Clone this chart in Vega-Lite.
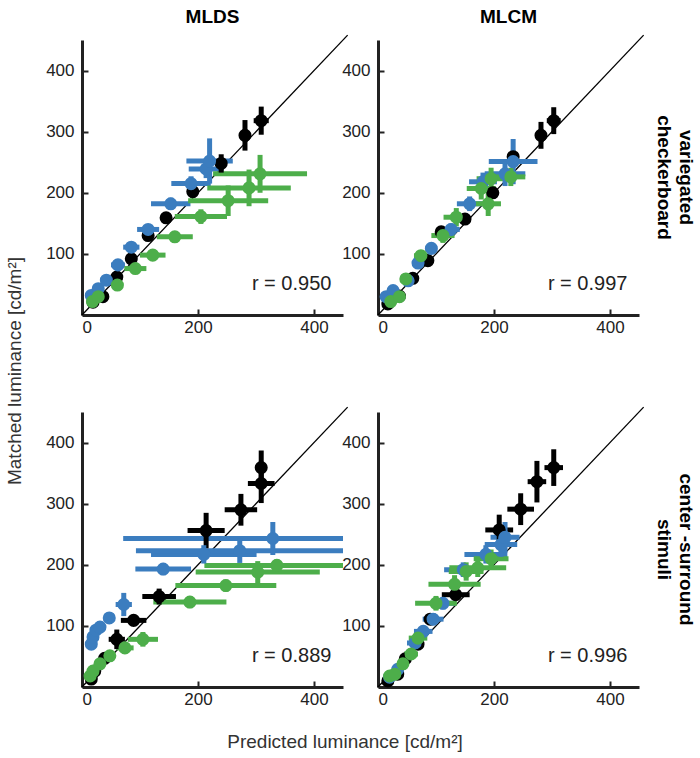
{
  "$schema": "https://vega.github.io/schema/vega-lite/v6.json",
  "padding": {"left": 5, "top": 8, "right": 2, "bottom": 5},
  "background": "white",
  "config": {
    "view": {"stroke": null},
    "font": "Liberation Sans",
    "axis": {"grid": false, "domainWidth": 3, "domainColor": "#222", "tickColor": "#222", "tickWidth": 2, "tickSize": -6, "labelFont": "Liberation Sans", "labelFontSize": 17, "labelColor": "#222", "title": null},
    "axisX": {"labelPadding": 10},
    "axisY": {"labelPadding": 14}
  },
  "data": {"values": [
    {"t":"r","m":"MLDS","s":"variegated|checkerboard","r":"r = 0.950"},
    {"t":"r","m":"MLCM","s":"variegated|checkerboard","r":"r = 0.997"},
    {"t":"r","m":"MLDS","s":"center -surround|stimuli","r":"r = 0.889"},
    {"t":"r","m":"MLCM","s":"center -surround|stimuli","r":"r = 0.996"},

    {"t":"p","m":"MLDS","s":"variegated|checkerboard","c":"k","x":19,"y":21,"xl":14,"xh":24,"yl":16,"yh":26},
    {"t":"p","m":"MLDS","s":"variegated|checkerboard","c":"k","x":36,"y":30,"xl":31,"xh":41,"yl":25,"yh":35},
    {"t":"p","m":"MLDS","s":"variegated|checkerboard","c":"k","x":60,"y":62,"xl":54,"xh":66,"yl":56,"yh":68},
    {"t":"p","m":"MLDS","s":"variegated|checkerboard","c":"k","x":85,"y":92,"xl":78,"xh":92,"yl":85,"yh":99},
    {"t":"p","m":"MLDS","s":"variegated|checkerboard","c":"k","x":114,"y":130,"xl":107,"xh":121,"yl":122,"yh":138},
    {"t":"p","m":"MLDS","s":"variegated|checkerboard","c":"k","x":145,"y":159,"xl":137,"xh":153,"yl":151,"yh":167},
    {"t":"p","m":"MLDS","s":"variegated|checkerboard","c":"k","x":191,"y":202,"xl":183,"xh":199,"yl":192,"yh":212},
    {"t":"p","m":"MLDS","s":"variegated|checkerboard","c":"k","x":240,"y":248,"xl":230,"xh":250,"yl":233,"yh":263},
    {"t":"p","m":"MLDS","s":"variegated|checkerboard","c":"k","x":281,"y":294,"xl":273,"xh":289,"yl":269,"yh":319},
    {"t":"p","m":"MLDS","s":"variegated|checkerboard","c":"k","x":309,"y":318,"xl":296,"xh":322,"yl":295,"yh":341},
    {"t":"p","m":"MLDS","s":"variegated|checkerboard","c":"b","x":16,"y":32,"xl":10,"xh":22,"yl":26,"yh":38},
    {"t":"p","m":"MLDS","s":"variegated|checkerboard","c":"b","x":28,"y":43,"xl":20,"xh":36,"yl":37,"yh":49},
    {"t":"p","m":"MLDS","s":"variegated|checkerboard","c":"b","x":42,"y":57,"xl":32,"xh":52,"yl":50,"yh":64},
    {"t":"p","m":"MLDS","s":"variegated|checkerboard","c":"b","x":62,"y":82,"xl":50,"xh":74,"yl":74,"yh":90},
    {"t":"p","m":"MLDS","s":"variegated|checkerboard","c":"b","x":85,"y":111,"xl":71,"xh":99,"yl":103,"yh":119},
    {"t":"p","m":"MLDS","s":"variegated|checkerboard","c":"b","x":114,"y":140,"xl":95,"xh":133,"yl":131,"yh":149},
    {"t":"p","m":"MLDS","s":"variegated|checkerboard","c":"b","x":153,"y":182,"xl":119,"xh":187,"yl":172,"yh":192},
    {"t":"p","m":"MLDS","s":"variegated|checkerboard","c":"b","x":188,"y":215,"xl":154,"xh":222,"yl":203,"yh":227},
    {"t":"p","m":"MLDS","s":"variegated|checkerboard","c":"b","x":214,"y":239,"xl":184,"xh":244,"yl":224,"yh":254},
    {"t":"p","m":"MLDS","s":"variegated|checkerboard","c":"b","x":220,"y":252,"xl":180,"xh":260,"yl":215,"yh":289},
    {"t":"p","m":"MLDS","s":"variegated|checkerboard","c":"g","x":18,"y":22,"xl":13,"xh":23,"yl":17,"yh":27},
    {"t":"p","m":"MLDS","s":"variegated|checkerboard","c":"g","x":28,"y":30,"xl":22,"xh":34,"yl":25,"yh":35},
    {"t":"p","m":"MLDS","s":"variegated|checkerboard","c":"g","x":61,"y":49,"xl":51,"xh":71,"yl":43,"yh":55},
    {"t":"p","m":"MLDS","s":"variegated|checkerboard","c":"g","x":92,"y":76,"xl":73,"xh":111,"yl":69,"yh":83},
    {"t":"p","m":"MLDS","s":"variegated|checkerboard","c":"g","x":122,"y":98,"xl":100,"xh":144,"yl":90,"yh":106},
    {"t":"p","m":"MLDS","s":"variegated|checkerboard","c":"g","x":160,"y":128,"xl":129,"xh":191,"yl":119,"yh":137},
    {"t":"p","m":"MLDS","s":"variegated|checkerboard","c":"g","x":205,"y":161,"xl":160,"xh":250,"yl":149,"yh":173},
    {"t":"p","m":"MLDS","s":"variegated|checkerboard","c":"g","x":252,"y":187,"xl":183,"xh":321,"yl":162,"yh":212},
    {"t":"p","m":"MLDS","s":"variegated|checkerboard","c":"g","x":288,"y":208,"xl":216,"xh":360,"yl":178,"yh":238},
    {"t":"p","m":"MLDS","s":"variegated|checkerboard","c":"g","x":307,"y":231,"xl":226,"xh":388,"yl":200,"yh":262},

    {"t":"p","m":"MLCM","s":"variegated|checkerboard","c":"k","x":17,"y":18,"xl":12,"xh":22,"yl":13,"yh":23},
    {"t":"p","m":"MLCM","s":"variegated|checkerboard","c":"k","x":37,"y":31,"xl":32,"xh":42,"yl":26,"yh":36},
    {"t":"p","m":"MLCM","s":"variegated|checkerboard","c":"k","x":60,"y":60,"xl":54,"xh":66,"yl":54,"yh":66},
    {"t":"p","m":"MLCM","s":"variegated|checkerboard","c":"k","x":86,"y":89,"xl":80,"xh":92,"yl":83,"yh":95},
    {"t":"p","m":"MLCM","s":"variegated|checkerboard","c":"k","x":109,"y":136,"xl":103,"xh":115,"yl":130,"yh":142},
    {"t":"p","m":"MLCM","s":"variegated|checkerboard","c":"k","x":150,"y":157,"xl":140,"xh":160,"yl":151,"yh":163},
    {"t":"p","m":"MLCM","s":"variegated|checkerboard","c":"k","x":198,"y":200,"xl":190,"xh":206,"yl":194,"yh":206},
    {"t":"p","m":"MLCM","s":"variegated|checkerboard","c":"k","x":233,"y":259,"xl":225,"xh":241,"yl":249,"yh":269},
    {"t":"p","m":"MLCM","s":"variegated|checkerboard","c":"k","x":281,"y":294,"xl":273,"xh":289,"yl":272,"yh":316},
    {"t":"p","m":"MLCM","s":"variegated|checkerboard","c":"k","x":303,"y":318,"xl":291,"xh":315,"yl":296,"yh":340},
    {"t":"p","m":"MLCM","s":"variegated|checkerboard","c":"b","x":14,"y":30,"xl":8,"xh":20,"yl":24,"yh":36},
    {"t":"p","m":"MLCM","s":"variegated|checkerboard","c":"b","x":26,"y":40,"xl":19,"xh":33,"yl":34,"yh":46},
    {"t":"p","m":"MLCM","s":"variegated|checkerboard","c":"b","x":52,"y":56,"xl":44,"xh":60,"yl":49,"yh":63},
    {"t":"p","m":"MLCM","s":"variegated|checkerboard","c":"b","x":69,"y":85,"xl":60,"xh":78,"yl":77,"yh":93},
    {"t":"p","m":"MLCM","s":"variegated|checkerboard","c":"b","x":92,"y":109,"xl":82,"xh":102,"yl":100,"yh":118},
    {"t":"p","m":"MLCM","s":"variegated|checkerboard","c":"b","x":126,"y":140,"xl":111,"xh":141,"yl":130,"yh":150},
    {"t":"p","m":"MLCM","s":"variegated|checkerboard","c":"b","x":158,"y":182,"xl":136,"xh":180,"yl":170,"yh":194},
    {"t":"p","m":"MLCM","s":"variegated|checkerboard","c":"b","x":181,"y":218,"xl":157,"xh":205,"yl":203,"yh":233},
    {"t":"p","m":"MLCM","s":"variegated|checkerboard","c":"b","x":219,"y":231,"xl":184,"xh":254,"yl":211,"yh":251},
    {"t":"p","m":"MLCM","s":"variegated|checkerboard","c":"b","x":233,"y":251,"xl":191,"xh":275,"yl":214,"yh":288},
    {"t":"p","m":"MLCM","s":"variegated|checkerboard","c":"g","x":22,"y":22,"xl":16,"xh":28,"yl":17,"yh":27},
    {"t":"p","m":"MLCM","s":"variegated|checkerboard","c":"g","x":37,"y":30,"xl":30,"xh":44,"yl":24,"yh":36},
    {"t":"p","m":"MLCM","s":"variegated|checkerboard","c":"g","x":48,"y":59,"xl":40,"xh":56,"yl":52,"yh":66},
    {"t":"p","m":"MLCM","s":"variegated|checkerboard","c":"g","x":74,"y":97,"xl":62,"xh":86,"yl":88,"yh":106},
    {"t":"p","m":"MLCM","s":"variegated|checkerboard","c":"g","x":112,"y":130,"xl":92,"xh":132,"yl":118,"yh":142},
    {"t":"p","m":"MLCM","s":"variegated|checkerboard","c":"g","x":135,"y":160,"xl":113,"xh":157,"yl":145,"yh":175},
    {"t":"p","m":"MLCM","s":"variegated|checkerboard","c":"g","x":178,"y":207,"xl":153,"xh":203,"yl":189,"yh":225},
    {"t":"p","m":"MLCM","s":"variegated|checkerboard","c":"g","x":190,"y":182,"xl":168,"xh":212,"yl":162,"yh":202},
    {"t":"p","m":"MLCM","s":"variegated|checkerboard","c":"g","x":195,"y":223,"xl":170,"xh":220,"yl":205,"yh":241},
    {"t":"p","m":"MLCM","s":"variegated|checkerboard","c":"g","x":229,"y":226,"xl":204,"xh":254,"yl":211,"yh":241},

    {"t":"p","m":"MLDS","s":"center -surround|stimuli","c":"k","x":16,"y":13,"xl":11,"xh":21,"yl":8,"yh":18},
    {"t":"p","m":"MLDS","s":"center -surround|stimuli","c":"k","x":22,"y":26,"xl":17,"xh":27,"yl":21,"yh":31},
    {"t":"p","m":"MLDS","s":"center -surround|stimuli","c":"k","x":39,"y":47,"xl":33,"xh":45,"yl":41,"yh":53},
    {"t":"p","m":"MLDS","s":"center -surround|stimuli","c":"k","x":60,"y":78,"xl":46,"xh":74,"yl":62,"yh":94},
    {"t":"p","m":"MLDS","s":"center -surround|stimuli","c":"k","x":89,"y":109,"xl":67,"xh":111,"yl":101,"yh":117},
    {"t":"p","m":"MLDS","s":"center -surround|stimuli","c":"k","x":133,"y":148,"xl":104,"xh":162,"yl":135,"yh":161},
    {"t":"p","m":"MLDS","s":"center -surround|stimuli","c":"k","x":214,"y":256,"xl":182,"xh":246,"yl":227,"yh":285},
    {"t":"p","m":"MLDS","s":"center -surround|stimuli","c":"k","x":274,"y":290,"xl":246,"xh":302,"yl":264,"yh":316},
    {"t":"p","m":"MLDS","s":"center -surround|stimuli","c":"k","x":309,"y":333,"xl":286,"xh":332,"yl":301,"yh":365},
    {"t":"p","m":"MLDS","s":"center -surround|stimuli","c":"k","x":309,"y":359,"xl":299,"xh":319,"yl":331,"yh":387},
    {"t":"p","m":"MLDS","s":"center -surround|stimuli","c":"b","x":16,"y":70,"xl":12,"xh":20,"yl":65,"yh":75},
    {"t":"p","m":"MLDS","s":"center -surround|stimuli","c":"b","x":19,"y":82,"xl":15,"xh":23,"yl":77,"yh":87},
    {"t":"p","m":"MLDS","s":"center -surround|stimuli","c":"b","x":24,"y":93,"xl":19,"xh":29,"yl":88,"yh":98},
    {"t":"p","m":"MLDS","s":"center -surround|stimuli","c":"b","x":31,"y":98,"xl":25,"xh":37,"yl":93,"yh":103},
    {"t":"p","m":"MLDS","s":"center -surround|stimuli","c":"b","x":47,"y":113,"xl":39,"xh":55,"yl":107,"yh":119},
    {"t":"p","m":"MLDS","s":"center -surround|stimuli","c":"b","x":72,"y":135,"xl":58,"xh":86,"yl":116,"yh":154},
    {"t":"p","m":"MLDS","s":"center -surround|stimuli","c":"b","x":140,"y":193,"xl":92,"xh":188,"yl":183,"yh":203},
    {"t":"p","m":"MLDS","s":"center -surround|stimuli","c":"b","x":210,"y":217,"xl":119,"xh":301,"yl":202,"yh":232},
    {"t":"p","m":"MLDS","s":"center -surround|stimuli","c":"b","x":272,"y":223,"xl":93,"xh":451,"yl":203,"yh":243},
    {"t":"p","m":"MLDS","s":"center -surround|stimuli","c":"b","x":329,"y":243,"xl":71,"xh":587,"yl":216,"yh":270},
    {"t":"p","m":"MLDS","s":"center -surround|stimuli","c":"g","x":14,"y":18,"xl":10,"xh":18,"yl":14,"yh":22},
    {"t":"p","m":"MLDS","s":"center -surround|stimuli","c":"g","x":19,"y":26,"xl":15,"xh":23,"yl":22,"yh":30},
    {"t":"p","m":"MLDS","s":"center -surround|stimuli","c":"g","x":31,"y":38,"xl":26,"xh":36,"yl":33,"yh":43},
    {"t":"p","m":"MLDS","s":"center -surround|stimuli","c":"g","x":48,"y":51,"xl":40,"xh":56,"yl":45,"yh":57},
    {"t":"p","m":"MLDS","s":"center -surround|stimuli","c":"g","x":74,"y":64,"xl":59,"xh":89,"yl":56,"yh":72},
    {"t":"p","m":"MLDS","s":"center -surround|stimuli","c":"g","x":105,"y":78,"xl":79,"xh":131,"yl":66,"yh":90},
    {"t":"p","m":"MLDS","s":"center -surround|stimuli","c":"g","x":186,"y":139,"xl":123,"xh":249,"yl":129,"yh":149},
    {"t":"p","m":"MLDS","s":"center -surround|stimuli","c":"g","x":248,"y":166,"xl":161,"xh":335,"yl":156,"yh":176},
    {"t":"p","m":"MLDS","s":"center -surround|stimuli","c":"g","x":303,"y":188,"xl":196,"xh":410,"yl":170,"yh":206},
    {"t":"p","m":"MLDS","s":"center -surround|stimuli","c":"g","x":336,"y":199,"xl":211,"xh":461,"yl":189,"yh":209},

    {"t":"p","m":"MLCM","s":"center -surround|stimuli","c":"k","x":17,"y":10,"xl":12,"xh":22,"yl":5,"yh":15},
    {"t":"p","m":"MLCM","s":"center -surround|stimuli","c":"k","x":34,"y":21,"xl":29,"xh":39,"yl":16,"yh":26},
    {"t":"p","m":"MLCM","s":"center -surround|stimuli","c":"k","x":47,"y":46,"xl":42,"xh":52,"yl":41,"yh":51},
    {"t":"p","m":"MLCM","s":"center -surround|stimuli","c":"k","x":69,"y":70,"xl":63,"xh":75,"yl":64,"yh":76},
    {"t":"p","m":"MLCM","s":"center -surround|stimuli","c":"k","x":90,"y":111,"xl":83,"xh":97,"yl":104,"yh":118},
    {"t":"p","m":"MLCM","s":"center -surround|stimuli","c":"k","x":134,"y":151,"xl":110,"xh":158,"yl":143,"yh":159},
    {"t":"p","m":"MLCM","s":"center -surround|stimuli","c":"k","x":209,"y":257,"xl":185,"xh":233,"yl":232,"yh":282},
    {"t":"p","m":"MLCM","s":"center -surround|stimuli","c":"k","x":246,"y":291,"xl":223,"xh":269,"yl":265,"yh":317},
    {"t":"p","m":"MLCM","s":"center -surround|stimuli","c":"k","x":274,"y":336,"xl":258,"xh":290,"yl":302,"yh":370},
    {"t":"p","m":"MLCM","s":"center -surround|stimuli","c":"k","x":303,"y":359,"xl":287,"xh":319,"yl":329,"yh":389},
    {"t":"p","m":"MLCM","s":"center -surround|stimuli","c":"b","x":20,"y":16,"xl":14,"xh":26,"yl":11,"yh":21},
    {"t":"p","m":"MLCM","s":"center -surround|stimuli","c":"b","x":34,"y":29,"xl":27,"xh":41,"yl":23,"yh":35},
    {"t":"p","m":"MLCM","s":"center -surround|stimuli","c":"b","x":64,"y":72,"xl":50,"xh":78,"yl":64,"yh":80},
    {"t":"p","m":"MLCM","s":"center -surround|stimuli","c":"b","x":78,"y":91,"xl":62,"xh":94,"yl":82,"yh":100},
    {"t":"p","m":"MLCM","s":"center -surround|stimuli","c":"b","x":95,"y":111,"xl":77,"xh":113,"yl":101,"yh":121},
    {"t":"p","m":"MLCM","s":"center -surround|stimuli","c":"b","x":112,"y":137,"xl":90,"xh":134,"yl":127,"yh":147},
    {"t":"p","m":"MLCM","s":"center -surround|stimuli","c":"b","x":147,"y":192,"xl":114,"xh":180,"yl":180,"yh":204},
    {"t":"p","m":"MLCM","s":"center -surround|stimuli","c":"b","x":186,"y":217,"xl":149,"xh":223,"yl":202,"yh":232},
    {"t":"p","m":"MLCM","s":"center -surround|stimuli","c":"b","x":212,"y":233,"xl":184,"xh":240,"yl":213,"yh":253},
    {"t":"p","m":"MLCM","s":"center -surround|stimuli","c":"b","x":219,"y":245,"xl":194,"xh":244,"yl":220,"yh":270},
    {"t":"p","m":"MLCM","s":"center -surround|stimuli","c":"g","x":20,"y":18,"xl":14,"xh":26,"yl":13,"yh":23},
    {"t":"p","m":"MLCM","s":"center -surround|stimuli","c":"g","x":29,"y":21,"xl":22,"xh":36,"yl":15,"yh":27},
    {"t":"p","m":"MLCM","s":"center -surround|stimuli","c":"g","x":43,"y":38,"xl":35,"xh":51,"yl":31,"yh":45},
    {"t":"p","m":"MLCM","s":"center -surround|stimuli","c":"g","x":57,"y":54,"xl":45,"xh":69,"yl":46,"yh":62},
    {"t":"p","m":"MLCM","s":"center -surround|stimuli","c":"g","x":69,"y":80,"xl":53,"xh":85,"yl":70,"yh":90},
    {"t":"p","m":"MLCM","s":"center -surround|stimuli","c":"g","x":100,"y":137,"xl":64,"xh":136,"yl":125,"yh":149},
    {"t":"p","m":"MLCM","s":"center -surround|stimuli","c":"g","x":132,"y":168,"xl":87,"xh":177,"yl":153,"yh":183},
    {"t":"p","m":"MLCM","s":"center -surround|stimuli","c":"g","x":152,"y":189,"xl":122,"xh":182,"yl":174,"yh":204},
    {"t":"p","m":"MLCM","s":"center -surround|stimuli","c":"g","x":172,"y":195,"xl":123,"xh":221,"yl":180,"yh":210},
    {"t":"p","m":"MLCM","s":"center -surround|stimuli","c":"g","x":195,"y":210,"xl":165,"xh":225,"yl":195,"yh":225}
  ]},
  "facet": {
    "column": {"field": "m", "type": "nominal", "sort": ["MLDS", "MLCM"], "title": "Predicted luminance [cd/m²]",
      "header": {"labelOrient": "top", "labelFont": "Liberation Sans", "labelFontSize": 19, "labelFontWeight": "bold", "labelColor": "#000", "labelPadding": 13,
                 "titleOrient": "bottom", "titleFont": "Liberation Sans", "titleFontSize": 19, "titleFontWeight": "normal", "titleColor": "#333", "titlePadding": 36}},
    "row": {"field": "s", "type": "nominal", "sort": ["variegated|checkerboard", "center -surround|stimuli"], "title": "Matched luminance [cd/m²]",
      "header": {"labelOrient": "right", "labelAngle": 90, "labelAlign": "center", "labelExpr": "split(datum.value, '|')", "labelFont": "Liberation Sans", "labelFontSize": 19, "labelFontWeight": "bold", "labelColor": "#000", "labelLineHeight": 22, "labelPadding": 15,
                 "titleOrient": "left", "titleAngle": -90, "titleFont": "Liberation Sans", "titleFontSize": 19, "titleFontWeight": "normal", "titleColor": "#333", "titlePadding": 28}}
  },
  "spacing": {"row": 97, "column": 35},
  "bounds": "flush",
  "resolve": {"axis": {"x": "independent", "y": "independent"}},
  "spec": {
    "width": 261,
    "height": 275,
    "layer": [
      {
        "transform": [{"filter": "datum.t == 'r'"}],
        "mark": {"type": "rule", "color": "#000", "strokeWidth": 1.3, "clip": false},
        "encoding": {
          "x": {"datum": 0, "type": "quantitative", "scale": {"domain": [0, 450], "nice": false, "zero": false}, "axis": {"values": [0, 200, 400]}},
          "y": {"datum": 0, "type": "quantitative", "scale": {"domain": [0, 450], "nice": false, "zero": false}, "axis": {"values": [100, 200, 300, 400]}},
          "x2": {"datum": 458},
          "y2": {"datum": 458}
        }
      },
      {
        "transform": [{"filter": "datum.t == 'p'"}],
        "mark": {"type": "rule", "strokeWidth": 5, "clip": true},
        "encoding": {
          "x": {"field": "xl", "type": "quantitative"},
          "x2": {"field": "xh"},
          "y": {"field": "y", "type": "quantitative"},
          "color": {"field": "c", "type": "nominal", "scale": {"domain": ["k", "b", "g"], "range": ["#000000", "#3b7dbf", "#4dae4a"]}, "legend": null}
        }
      },
      {
        "transform": [{"filter": "datum.t == 'p'"}],
        "mark": {"type": "rule", "strokeWidth": 5, "clip": true},
        "encoding": {
          "x": {"field": "x", "type": "quantitative"},
          "y": {"field": "yl", "type": "quantitative"},
          "y2": {"field": "yh"},
          "color": {"field": "c", "type": "nominal", "legend": null}
        }
      },
      {
        "transform": [{"filter": "datum.t == 'p'"}],
        "mark": {"type": "point", "filled": true, "shape": "circle", "size": 170, "opacity": 1},
        "encoding": {
          "x": {"field": "x", "type": "quantitative"},
          "y": {"field": "y", "type": "quantitative"},
          "color": {"field": "c", "type": "nominal", "legend": null}
        }
      },
      {
        "transform": [{"filter": "datum.t == 'r'"}],
        "mark": {"type": "text", "align": "right", "baseline": "middle", "font": "Liberation Sans", "fontSize": 20, "color": "#222"},
        "encoding": {
          "x": {"datum": 430, "type": "quantitative"},
          "y": {"datum": 50, "type": "quantitative"},
          "text": {"field": "r", "type": "nominal"}
        }
      }
    ]
  }
}
